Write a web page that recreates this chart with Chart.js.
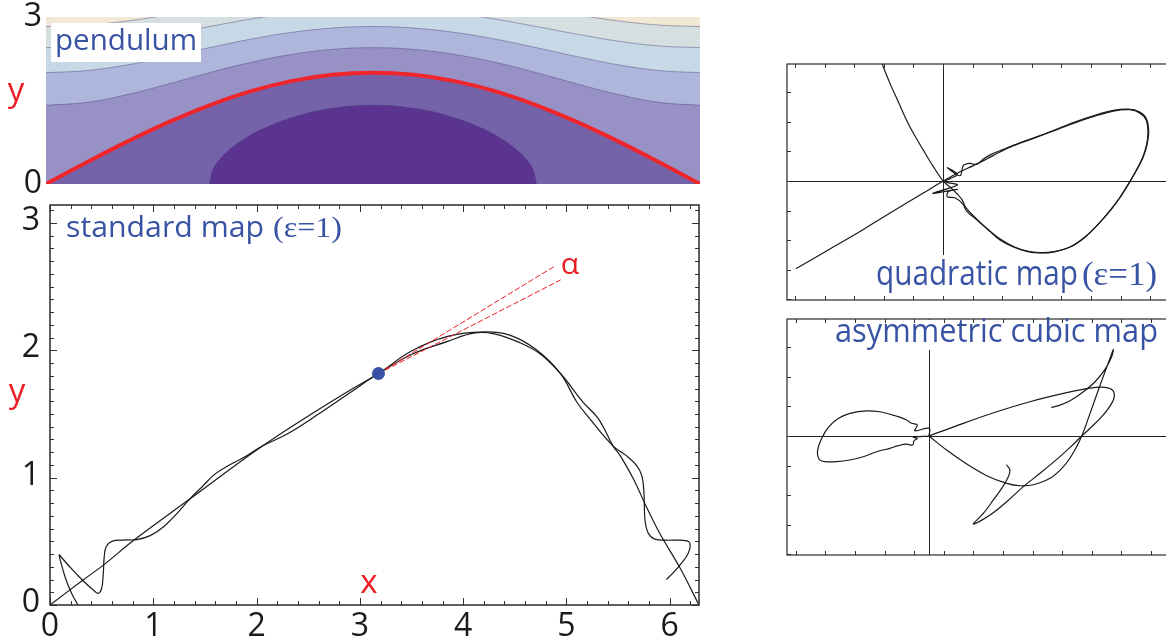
<!DOCTYPE html>
<html>
<head>
<meta charset="utf-8">
<script src="https://cdn.jsdelivr.net/npm/chart.js@4.4.1/dist/chart.umd.min.js"></script>
<style>
html,body{margin:0;padding:0;background:#fff;overflow:hidden;width:1166px;height:637px;position:relative;}
canvas{position:absolute;display:block;}
</style>
</head>
<body>
<canvas id="cP" width="720" height="200" style="left:0;top:0"></canvas>
<canvas id="cS" width="720" height="480" style="left:0;top:190px"></canvas>
<canvas id="cQ" width="400" height="260" style="left:780px;top:55px"></canvas>
<canvas id="cA" width="400" height="260" style="left:780px;top:310px"></canvas>
<script>
// ---------------- data ----------------
// pendulum panel: x sample positions and contour heights of the energy levels
const pendX   = [0, 0.3927, 0.7854, 1.1781, 1.5708, 1.9635, 2.3562, 2.7489, 3.1416, 3.5343, 3.9270, 4.3197, 4.7124, 5.1051, 5.4978, 5.8905, 6.2832];
const level1Y = [0, 0.390, 0.765, 1.111, 1.414, 1.663, 1.848, 1.962, 2.000, 1.962, 1.848, 1.663, 1.414, 1.111, 0.765, 0.390, 0];
const level2Y = [1.414, 1.467, 1.608, 1.798, 2.000, 2.183, 2.327, 2.418, 2.449, 2.418, 2.327, 2.183, 2.000, 1.798, 1.608, 1.467, 1.414];
const level3Y = [2.000, 2.038, 2.141, 2.288, 2.449, 2.601, 2.723, 2.801, 2.828, 2.801, 2.723, 2.601, 2.449, 2.288, 2.141, 2.038, 2.000];
const level4Y = [2.449, 2.480, 2.566, 2.690, 2.828, 2.961, 3.068, 3.138, 3.162, 3.138, 3.068, 2.961, 2.828, 2.690, 2.566, 2.480, 2.449];
const level5Y = [2.828, 2.855, 2.930, 3.039, 3.162, 3.281, 3.378, 3.442, 3.464, 3.442, 3.378, 3.281, 3.162, 3.039, 2.930, 2.855, 2.828];
const ellipseX = [1.5708, 1.60, 1.65, 1.75, 1.90, 2.10, 2.40, 2.75, 3.1416, 3.533, 3.883, 4.183, 4.383, 4.533, 4.633, 4.683, 4.7124];
const ellipseY = [0, 0.242, 0.398, 0.597, 0.804, 1.005, 1.214, 1.360, 1.414, 1.360, 1.214, 1.005, 0.804, 0.597, 0.398, 0.242, 0];

// standard map: unstable manifold (from origin) and stable manifold (into 2π)
const unstableX = [0, 0.31, 0.52, 0.82, 1.35, 2.06, 2.6, 2.9, 3.18, 3.50, 3.85, 4.20, 4.45, 4.70, 4.94, 5.10, 5.227, 5.45, 5.58, 5.68, 5.73, 5.75, 5.76, 5.79, 5.85, 5.97, 6.10, 6.19, 6.18, 6.10, 6.03, 5.97];
const unstableY = [0, 0.19, 0.315, 0.514, 0.83, 1.25, 1.535, 1.685, 1.818, 1.995, 2.11, 2.145, 2.12, 2.01, 1.82, 1.594, 1.462, 1.25, 1.173, 1.094, 1.014, 0.883, 0.672, 0.567, 0.519, 0.509, 0.509, 0.493, 0.408, 0.316, 0.25, 0.203];
const stableX = [6.283, 6.10, 5.90, 5.77, 5.65, 5.52, 5.45, 5.31, 5.16, 4.94, 4.75, 4.55, 4.30, 4.10, 3.85, 3.52, 3.18, 2.9, 2.6, 2.3, 2.06, 1.9, 1.75, 1.6, 1.48, 1.35, 1.23, 1.10, 0.97, 0.84, 0.71, 0.60, 0.545, 0.525, 0.516, 0.50, 0.47, 0.43, 0.31, 0.18, 0.11, 0.09, 0.10, 0.15, 0.21, 0.27];
const stableY = [0, 0.29, 0.567, 0.777, 0.988, 1.173, 1.25, 1.462, 1.594, 1.82, 1.97, 2.06, 2.13, 2.135, 2.07, 1.975, 1.818, 1.665, 1.50, 1.345, 1.25, 1.17, 1.105, 1.03, 0.935, 0.83, 0.72, 0.615, 0.545, 0.514, 0.51, 0.50, 0.46, 0.38, 0.25, 0.13, 0.092, 0.11, 0.198, 0.31, 0.375, 0.395, 0.35, 0.21, 0.09, 0];
const homoclinicX = [3.18];
const homoclinicY = [1.818];
const tangent1X = [3.18, 4.88];
const tangent1Y = [1.818, 2.658];
const tangent2X = [3.18, 4.94];
const tangent2Y = [1.818, 2.552];

// quadratic map (arbitrary units, origin = hyperbolic point)
const quadUnstableX = [-0.989, -0.764, -0.538, -0.313, -0.133, 0.002, 0.115, 0.205, 0.295, 0.385, 0.475, 0.611, 0.746, 0.881, 1.014, 1.151, 1.264, 1.331, 1.372, 1.385, 1.376, 1.349, 1.304, 1.252, 1.196, 1.128, 1.050, 0.959, 0.858, 0.745, 0.655, 0.565, 0.475, 0.385, 0.300, 0.216, 0.160, 0.133, 0.081, 0.029, 0.036, 0.097, -0.070, 0.097, 0.025, 0.002];
const quadUnstableY = [-0.590, -0.459, -0.327, -0.189, -0.081, 0, 0.063, 0.104, 0.149, 0.196, 0.239, 0.288, 0.338, 0.390, 0.435, 0.473, 0.482, 0.459, 0.414, 0.333, 0.248, 0.160, 0.070, -0.020, -0.110, -0.200, -0.291, -0.378, -0.446, -0.480, -0.486, -0.475, -0.446, -0.399, -0.324, -0.252, -0.203, -0.155, -0.113, -0.106, -0.072, -0.056, -0.083, -0.027, -0.009, 0];
const quadStableX = [-0.426, -0.358, -0.302, -0.257, -0.212, -0.133, -0.065, 0.002, 0.070, 0.126, 0.155, 0.223, 0.304, 0.390, 0.480, 0.570, 0.660, 0.750, 0.863, 0.964, 1.054, 1.133, 1.200, 1.257, 1.309, 1.354, 1.381, 1.390, 1.374, 1.327, 1.252, 1.151, 1.016, 0.881, 0.746, 0.611, 0.475, 0.385, 0.329, 0.273, 0.227, 0.182, 0.137, 0.115, 0.029, 0.097, 0.052, 0.014];
const quadStableY = [0.829, 0.660, 0.536, 0.435, 0.345, 0.209, 0.097, 0, -0.061, -0.122, -0.180, -0.252, -0.327, -0.394, -0.444, -0.473, -0.484, -0.477, -0.444, -0.376, -0.286, -0.196, -0.106, -0.016, 0.074, 0.164, 0.255, 0.338, 0.423, 0.468, 0.486, 0.477, 0.441, 0.396, 0.342, 0.291, 0.241, 0.205, 0.182, 0.149, 0.113, 0.119, 0.104, 0.036, 0.090, 0.045, 0.018, 0.002];

// asymmetric cubic map (arbitrary units)
const cubicLeftX = [0, 0.002, -0.095, -0.079, -0.117, -0.151, -0.207, -0.252, -0.331, -0.444, -0.534, -0.613, -0.680, -0.725, -0.752, -0.743, -0.703, -0.624, -0.534, -0.444, -0.354, -0.264, -0.207, -0.155, -0.110, -0.101, -0.079, -0.106, 0];
const cubicLeftY = [0, 0.052, 0.036, 0.074, 0.086, 0.108, 0.131, 0.144, 0.164, 0.169, 0.153, 0.119, 0.059, -0.016, -0.095, -0.155, -0.173, -0.173, -0.162, -0.140, -0.106, -0.083, -0.065, -0.054, -0.061, -0.032, -0.018, -0.007, 0];
const cubicUpperX = [0, 0.232, 0.457, 0.682, 0.908, 1.065, 1.167, 1.234, 1.252, 1.227, 1.167, 1.099, 1.032, 0.953, 0.863, 0.750, 0.637, 0.525, 0.412, 0.300, 0.367, 0.435, 0.491, 0.536, 0.547, 0.525];
const cubicUpperY = [0, 0.086, 0.164, 0.232, 0.288, 0.320, 0.331, 0.315, 0.270, 0.209, 0.131, 0.063, 0, -0.077, -0.158, -0.252, -0.342, -0.444, -0.534, -0.595, -0.523, -0.432, -0.354, -0.275, -0.230, -0.196];
const cubicLowerX = [0, 0.119, 0.255, 0.390, 0.525, 0.615, 0.705, 0.818, 0.908, 0.975, 1.032, 1.088, 1.144, 1.189, 1.227, 1.245, 1.234, 1.189, 1.122, 1.043, 0.953, 0.885, 0.829];
const cubicLowerY = [0, -0.095, -0.189, -0.268, -0.320, -0.336, -0.329, -0.286, -0.207, -0.113, 0, 0.153, 0.311, 0.435, 0.536, 0.586, 0.536, 0.450, 0.367, 0.300, 0.239, 0.209, 0.194];

// tick label values
const pendTicks = [0, 3];
const stdXTicks = [0, 1, 2, 3, 4, 5, 6];
const stdYTicks = [0, 1, 2, 3];

// ---------------- styling & helpers ----------------
const BLUE = '#3953a4', RED = '#ec1c24', INK = '#1a1a1a';
const SANS = '"Open Sans", "Noto Sans", sans-serif';
const SERIF = '"Liberation Serif", "DejaVu Serif", serif';
const pts = (xs, ys) => xs.map((x, i) => ({ x: x, y: ys[i] }));
const near = (v, list) => list.some(t => Math.abs(v - t) < 1e-6);
const noPad = s => { s.paddingTop = 0; s.paddingBottom = 0; s.paddingLeft = 0; s.paddingRight = 0; };

function drawText(ctx, t) {
  ctx.save();
  ctx.font = t.font;
  ctx.fillStyle = t.color;
  ctx.textBaseline = 'alphabetic';
  ctx.textAlign = 'left';
  const w = ctx.measureText(t.text).width;
  const sx = t.width ? t.width / w : 1;
  let x = t.x;
  if (t.align === 'center') x = t.x - w * sx / 2;
  ctx.translate(x, t.y);
  ctx.scale(sx, 1);
  ctx.fillText(t.text, 0, 0);
  ctx.restore();
}

const DECOR = {
  P: {
    bg: '#f1e8d5',
    boxesAfter: [[51, 23, 150, 39]],
    texts: [
      { text: 'pendulum', font: '30px ' + SANS, color: BLUE, x: 55, y: 50, width: 142 },
      { text: 'y', font: '33px ' + SANS, color: RED, x: 16, y: 101, align: 'center' }
    ]
  },
  S: {
    frame: true, major: v => near(v, stdXTicks), majorY: v => near(v, stdYTicks),
    majorLen: 7, minorLen: 4, frameColor: '#2a2a2a', frameWidth: 1.5,
    texts: [
      { text: 'standard map', font: '29px ' + SANS, color: BLUE, x: 66, y: 47, width: 198 },
      { text: '(\u03b5=1)', font: '30px ' + SERIF, color: BLUE, x: 273, y: 47, width: 69 },
      { text: 'y', font: '33px ' + SANS, color: RED, x: 17, y: 212, align: 'center' },
      { text: 'x', font: '33px ' + SANS, color: RED, x: 369, y: 403, align: 'center' },
      { text: '\u03b1', font: '30px ' + SANS, color: RED, x: 570, y: 84, align: 'center' }
    ]
  },
  Q: {
    frame: true, cross: true, major: () => false, majorY: () => false,
    majorLen: 4, minorLen: 4, frameColor: '#2a2a2a', frameWidth: 1.2,
    boxes: [[90, 200, 300, 44]],
    texts: [
      { text: 'quadratic map', font: '34px ' + SANS, color: BLUE, x: 96, y: 230, width: 202 },
      { text: '(\u03b5=1)', font: '34px ' + SERIF, color: BLUE, x: 302, y: 230, width: 75 }
    ]
  },
  A: {
    frame: true, cross: true, major: () => false, majorY: () => false,
    majorLen: 4, minorLen: 4, frameColor: '#2a2a2a', frameWidth: 1.2,
    boxes: [[50, 10, 340, 30]],
    texts: [
      { text: 'asymmetric cubic map', font: '33px ' + SANS, color: BLUE, x: 55, y: 32, width: 323 }
    ]
  }
};

const decorPlugin = {
  id: 'decor',
  beforeDatasetsDraw(chart, args, opts) {
    const d = DECOR[opts.key]; if (!d) return;
    const ctx = chart.ctx, a = chart.chartArea;
    ctx.save();
    if (d.bg) { ctx.fillStyle = d.bg; ctx.fillRect(a.left, a.top, a.right - a.left, a.bottom - a.top); }
    if (d.cross) {
      const x0 = Math.round(chart.scales.x.getPixelForValue(0)) + 0.5;
      const y0 = Math.round(chart.scales.y.getPixelForValue(0)) + 0.5;
      ctx.strokeStyle = '#222'; ctx.lineWidth = 1;
      ctx.beginPath();
      ctx.moveTo(x0, a.top); ctx.lineTo(x0, a.bottom);
      ctx.moveTo(a.left, y0); ctx.lineTo(a.right, y0);
      ctx.stroke();
    }
    (d.boxes || []).forEach(b => { ctx.fillStyle = '#fff'; ctx.fillRect(b[0], b[1], b[2], b[3]); });
    ctx.restore();
  },
  afterDatasetsDraw(chart, args, opts) {
    const d = DECOR[opts.key]; if (!d) return;
    const ctx = chart.ctx, a = chart.chartArea;
    ctx.save();
    (d.boxesAfter || []).forEach(b => { ctx.fillStyle = '#fff'; ctx.fillRect(b[0], b[1], b[2], b[3]); });
    if (d.frame) {
      const xs = chart.scales.x, ys = chart.scales.y;
      ctx.strokeStyle = '#333'; ctx.lineWidth = 1;
      ctx.beginPath();
      xs.ticks.forEach(t => {
        const p = Math.round(xs.getPixelForValue(t.value)) + 0.5;
        const L = d.major(t.value) ? d.majorLen : d.minorLen;
        ctx.moveTo(p, a.bottom); ctx.lineTo(p, a.bottom - L);
        ctx.moveTo(p, a.top); ctx.lineTo(p, a.top + L);
      });
      ys.ticks.forEach(t => {
        const p = Math.round(ys.getPixelForValue(t.value)) + 0.5;
        const L = d.majorY(t.value) ? d.majorLen : d.minorLen;
        ctx.moveTo(a.left, p); ctx.lineTo(a.left + L, p);
        ctx.moveTo(a.right, p); ctx.lineTo(a.right - L, p);
      });
      ctx.stroke();
      ctx.strokeStyle = d.frameColor; ctx.lineWidth = d.frameWidth;
      ctx.strokeRect(a.left, a.top, a.right - a.left, a.bottom - a.top);
    }
    (d.texts || []).forEach(t => drawText(ctx, t));
    ctx.restore();
  }
};
Chart.register(decorPlugin);

function makeChart(id, key, datasets, scales, padding) {
  return new Chart(document.getElementById(id), {
    type: 'line',
    data: { datasets: datasets },
    options: {
      responsive: false, animation: false, events: [],
      layout: { padding: padding },
      plugins: { legend: { display: false }, tooltip: { enabled: false }, decor: { key: key } },
      elements: { point: { radius: 0 }, line: { tension: 0.4, borderJoinStyle: 'round', borderCapStyle: 'round' } },
      scales: scales
    }
  });
}

const tickFont = { family: SANS, size: 32 };
const curve = (data, extra) => Object.assign({ data: data, borderColor: INK, borderWidth: 1.2, fill: false, pointRadius: 0 }, extra || {});
const contourLine = 'rgba(70,60,115,0.55)';

// ---------------- pendulum ----------------
makeChart('cP', 'P', [
  { data: pts(ellipseX, ellipseY), fill: 'start', backgroundColor: '#5b3391', borderColor: contourLine, borderWidth: 0.8, pointRadius: 0 },
  { data: pts(pendX, level1Y), fill: 'start', backgroundColor: '#7463a9', borderColor: '#ee262c', borderWidth: 4, pointRadius: 0 },
  { data: pts(pendX, level2Y), fill: 'start', backgroundColor: '#9891c6', borderColor: contourLine, borderWidth: 0.8, pointRadius: 0 },
  { data: pts(pendX, level3Y), fill: 'start', backgroundColor: '#afb6dc', borderColor: contourLine, borderWidth: 0.8, pointRadius: 0 },
  { data: pts(pendX, level4Y), fill: 'start', backgroundColor: '#c7d9e7', borderColor: contourLine, borderWidth: 0.8, pointRadius: 0 },
  { data: pts(pendX, level5Y), fill: 'start', backgroundColor: '#d6dfe0', borderColor: contourLine, borderWidth: 0.8, pointRadius: 0 }
], {
  x: { type: 'linear', display: false, min: 0, max: 6.2832 },
  y: {
    type: 'linear', min: 0, max: 3,
    afterFit: s => { s.width = 46; noPad(s); },
    grid: { display: false, drawTicks: false }, border: { display: false },
    afterBuildTicks: s => { s.ticks = pendTicks.map(v => ({ value: v })); },
    ticks: { padding: 4, crossAlign: 'center', labelOffset: 0, color: INK, font: tickFont }
  }
}, { left: 0, top: 17, right: 20, bottom: 16 });

// ---------------- standard map ----------------
makeChart('cS', 'S', [
  { data: pts(homoclinicX, homoclinicY), showLine: false, pointRadius: 6.5, pointBackgroundColor: BLUE, pointBorderWidth: 0, pointBorderColor: BLUE },
  { data: pts(tangent1X, tangent1Y), borderColor: RED, borderWidth: 1, borderDash: [5, 3], tension: 0, pointRadius: 0 },
  { data: pts(tangent2X, tangent2Y), borderColor: RED, borderWidth: 1, borderDash: [5, 3], tension: 0, pointRadius: 0 },
  curve(pts(unstableX, unstableY)),
  curve(pts(stableX, stableY))
], {
  x: {
    type: 'linear', min: 0, max: 6.2832,
    afterFit: s => { s.height = 65; noPad(s); },
    grid: { display: false, drawTicks: false }, border: { display: false },
    ticks: { stepSize: 0.2, includeBounds: false, autoSkip: false, maxRotation: 0, padding: 3, color: INK, font: tickFont,
             callback: v => near(v, stdXTicks) ? String(Math.round(v)) : '' }
  },
  y: {
    type: 'linear', min: 0, max: 3.1416,
    afterFit: s => { s.width = 50; noPad(s); },
    grid: { display: false, drawTicks: false }, border: { display: false },
    ticks: { stepSize: 0.1, includeBounds: false, autoSkip: false, padding: 10, crossAlign: 'center', labelOffset: -2, color: INK, font: tickFont,
             callback: v => near(v, stdYTicks) ? String(Math.round(v)) : '' }
  }
}, { left: 0, top: 15, right: 21, bottom: 0 });

// ---------------- quadratic map ----------------
const hiddenAxis = (min, max) => ({ type: 'linear', display: false, min: min, max: max, ticks: { stepSize: 0.1, includeBounds: false } });
makeChart('cQ', 'Q', [
  curve(pts(quadStableX, quadStableY), { tension: 0.35 }),
  curve(pts(quadUnstableX, quadUnstableY), { tension: 0.35 })
], { x: hiddenAxis(-1.054, 1.534), y: hiddenAxis(-0.804, 0.791) }, { left: 7, top: 9, right: 10, bottom: 15 });

// ---------------- asymmetric cubic map ----------------
makeChart('cA', 'A', [
  curve(pts(cubicLeftX, cubicLeftY), { tension: 0.35 }),
  curve(pts(cubicUpperX, cubicUpperY), { tension: 0.35 }),
  curve(pts(cubicLowerX, cubicLowerY), { tension: 0.35 })
], { x: hiddenAxis(-0.959, 1.628), y: hiddenAxis(-0.804, 0.791) }, { left: 7, top: 9, right: 10, bottom: 15 });
</script>
</body>
</html>
